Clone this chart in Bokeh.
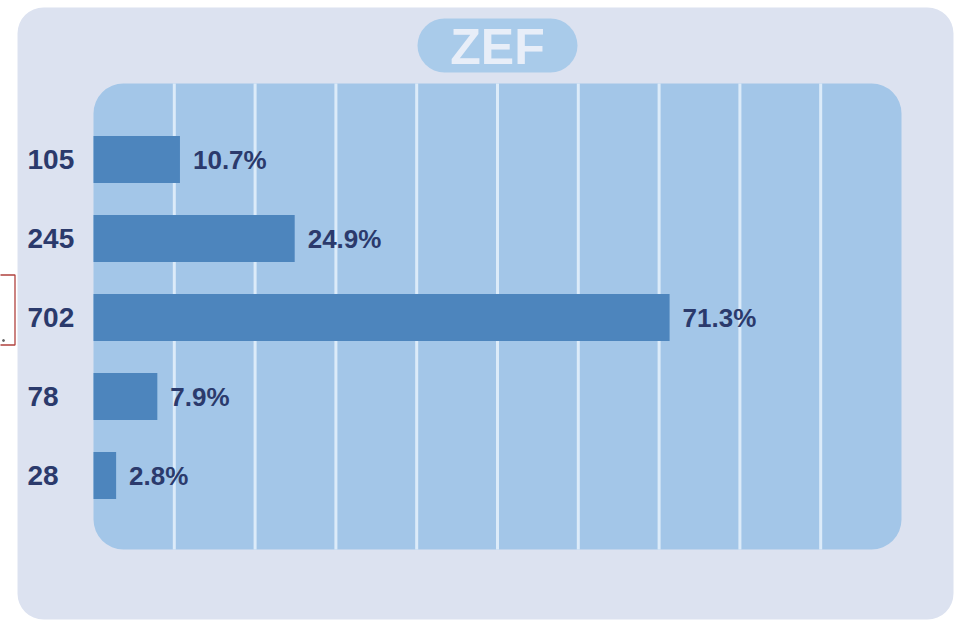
from bokeh.plotting import figure
from bokeh.models import Range1d, BoxAnnotation
from bokeh.embed import file_html
from bokeh.resources import INLINE
from bokeh.core.properties import value

# ---- data ----
title_text = "ZEF"
counts = [105, 245, 702, 78, 28]
count_labels = ["105", "245", "702", "78", "28"]
percents = [10.7, 24.9, 71.3, 7.9, 2.8]
pct_labels = ["10.7%", "24.9%", "71.3%", "7.9%", "2.8%"]
grid_values = [10, 20, 30, 40, 50, 60, 70, 80, 90]

# ---- layout helpers (pixel -> data) ----
W, H = 955, 620
X0 = 93.0          # pixel of 0 %
PX_PER_PCT = 8.08  # pixels per percent
ROW0 = 159.0       # pixel centre of first row
ROW_STEP = 79.0    # pixels between rows


def dx(px):
    return (px - X0) / PX_PER_PCT


def dy(py):
    return -(py - ROW0) / ROW_STEP


rows = [-i for i in range(len(counts))]

p = figure(width=W, height=H,
           x_range=Range1d(dx(0), dx(W)), y_range=Range1d(dy(H), dy(0)),
           x_axis_type=None, y_axis_type=None,
           output_backend="svg", toolbar_location=None,
           min_border=0, min_border_left=0, min_border_right=0,
           min_border_top=0, min_border_bottom=0)
p.grid.visible = False
p.outline_line_color = None
p.background_fill_color = "white"
p.border_fill_color = "white"

NAVY = "#2b3a6c"

# outer panel
p.add_layout(BoxAnnotation(left=dx(17), right=dx(953), top=dy(7), bottom=dy(619),
                           fill_color="#dce2f0", fill_alpha=1, line_color=None,
                           border_radius=26, level="underlay"))
# inner plotting panel
p.add_layout(BoxAnnotation(left=dx(93), right=dx(901), top=dy(83), bottom=dy(549),
                           fill_color="#a3c6e8", fill_alpha=1, line_color=None,
                           border_radius=30, level="underlay"))
# title pill
p.add_layout(BoxAnnotation(left=dx(417), right=dx(577), top=dy(18), bottom=dy(72),
                           fill_color="#a9cbea", fill_alpha=1, line_color=None,
                           border_radius=27, level="underlay"))
# small red-bordered box at the left edge
p.quad(left=[dx(-2)], right=[dx(14.5)], top=[dy(274.5)], bottom=[dy(344.5)],
       fill_color="white", line_color="#b0413e", line_width=1.3)
p.scatter(x=[dx(3)], y=[dy(340)], size=2, color="#666666")

# title
p.text(x=[dx(497)], y=[dy(46)], text=[title_text],
       text_font=value("Liberation Sans"), text_font_style="bold",
       text_font_size="50px", text_color="#e8eef8",
       text_align="center", text_baseline="middle")

# vertical grid lines
p.segment(x0=grid_values, x1=grid_values, y0=dy(83), y1=dy(549),
          line_color="#dcebf9", line_width=3)

# bars
p.hbar(y=rows, left=0, right=percents, height=47 / ROW_STEP,
       fill_color="#4d85bd", line_color=None)

# count labels
p.text(x=[dx(27)] * len(rows), y=rows, text=count_labels,
       text_font=value("Liberation Sans"), text_font_style="bold",
       text_font_size="28px", text_color=NAVY,
       text_align="left", text_baseline="middle")

# percent labels
p.text(x=percents, y=rows, text=pct_labels, x_offset=13,
       text_font=value("Liberation Sans"), text_font_style="bold",
       text_font_size="26px", text_color=NAVY,
       text_align="left", text_baseline="middle")

open("out.html", "w").write(file_html(p, INLINE))
